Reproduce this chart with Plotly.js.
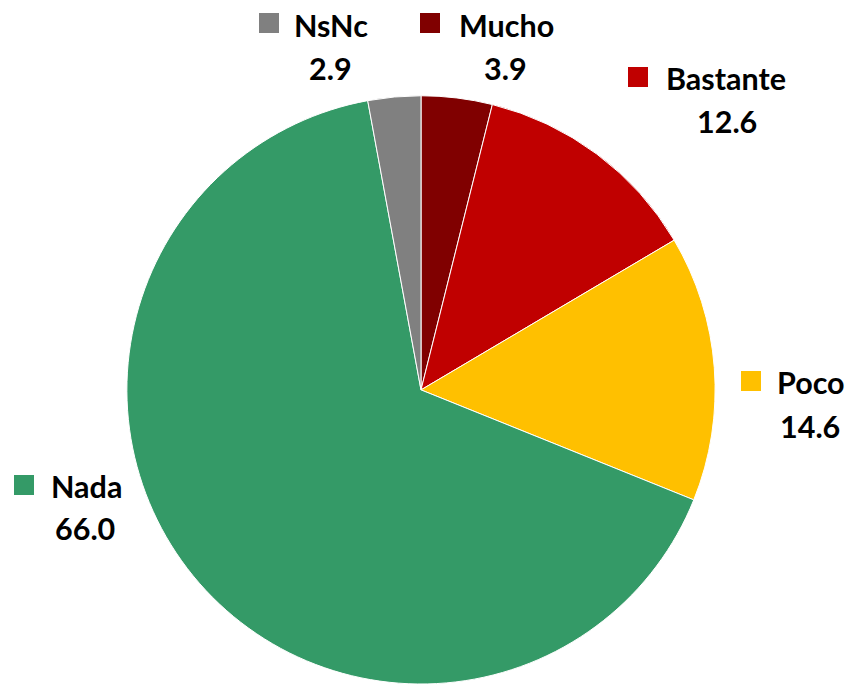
<!DOCTYPE html>
<html>
<head>
<meta charset="utf-8">
<script src="https://cdn.plot.ly/plotly-3.0.1.min.js"></script>
<style>html,body{margin:0;padding:0;background:#fff;}#chart{width:848px;height:684px;}</style>
</head>
<body>
<div id="chart"></div>
<script>
const categories = ["Mucho", "Bastante", "Poco", "Nada", "NsNc"];
const values = [3.9, 12.6, 14.6, 66.0, 2.9];
const colors = ["#800000", "#C00000", "#FFC000", "#349A67", "#808080"];

// label placement (pixels in the 848x684 canvas): name centre, value centre, marker centre
const W = 848, H = 684;
const labelPos = {
  "Mucho":    {nx: 506, ny: 25,  vx: 505, vy: 68,  mx: 430, my: 23},
  "Bastante": {nx: 726, ny: 78,  vx: 727, vy: 121, mx: 638, my: 77},
  "Poco":     {nx: 811, ny: 382, vx: 810, vy: 426, mx: 751, my: 381},
  "Nada":     {nx: 86,  ny: 486, vx: 85,  vy: 528, mx: 24,  my: 485},
  "NsNc":     {nx: 331, ny: 25,  vx: 330, vy: 68,  mx: 269, my: 23}
};

const font = {family: "Lato, 'Open Sans', sans-serif", size: 30.5, color: "#000000", weight: 700};
const annotations = [];
const shapes = [];
categories.forEach((c, i) => {
  const p = labelPos[c];
  annotations.push({xref: "paper", yref: "paper", x: p.nx / W, y: 1 - p.ny / H,
    xanchor: "center", yanchor: "middle", showarrow: false, text: "<b>" + c + "</b>", font: font});
  annotations.push({xref: "paper", yref: "paper", x: p.vx / W, y: 1 - p.vy / H,
    xanchor: "center", yanchor: "middle", showarrow: false, text: "<b>" + values[i].toFixed(1) + "</b>", font: font});
  shapes.push({type: "rect", xref: "paper", yref: "paper",
    x0: (p.mx - 10) / W, x1: (p.mx + 10) / W, y0: 1 - (p.my + 10) / H, y1: 1 - (p.my - 10) / H,
    fillcolor: colors[i], line: {width: 0}});
});

const data = [{
  type: "pie",
  labels: categories,
  values: values,
  marker: {colors: colors, line: {color: "#ffffff", width: 1}},
  sort: false,
  direction: "clockwise",
  rotation: 0,
  textinfo: "none",
  hoverinfo: "label+value",
  domain: {x: [126 / W, 716 / W], y: [0, 0.86]}
}];

const layout = {
  width: W, height: H,
  margin: {l: 0, r: 0, t: 0, b: 0},
  paper_bgcolor: "#ffffff",
  showlegend: false,
  annotations: annotations,
  shapes: shapes
};

Plotly.newPlot("chart", data, layout, {displayModeBar: false, staticPlot: true});
</script>
</body>
</html>
